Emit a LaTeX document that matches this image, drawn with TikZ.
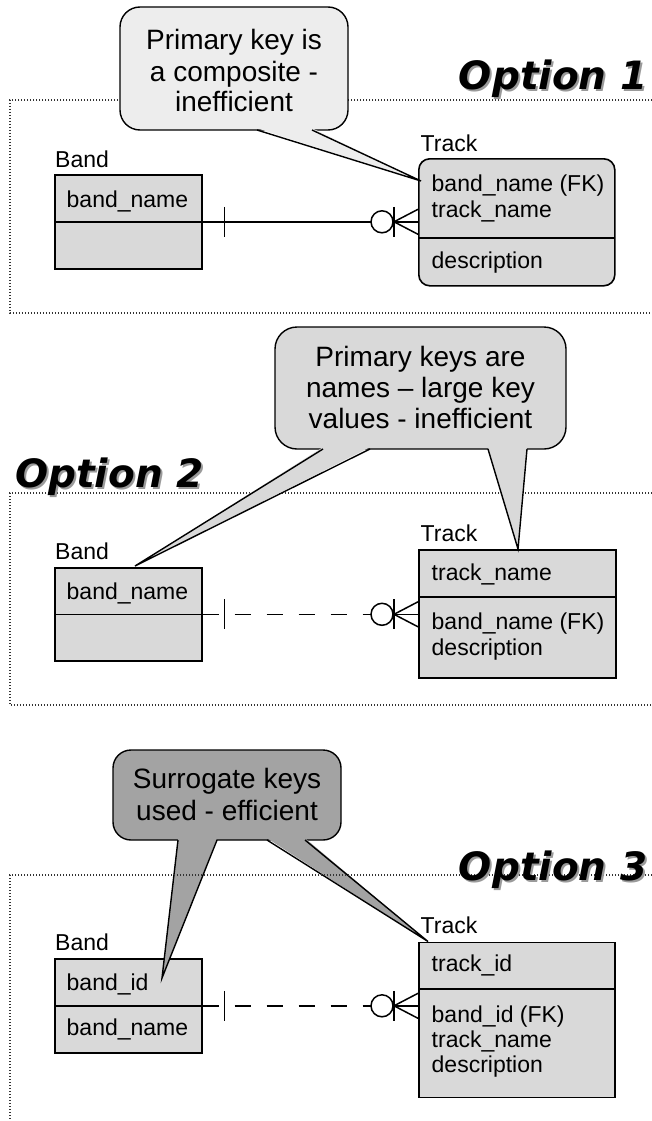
\documentclass[tikz,border=0pt]{standalone}
\usepackage{fontspec}
\setmainfont{Liberation Sans}
\newfontfamily\optfont{DejaVu Sans}
\usetikzlibrary{calc}
\definecolor{boxgray}{HTML}{D9D9D9}
\definecolor{calloutA}{HTML}{EDEDED}
\definecolor{calloutB}{HTML}{D9D9D9}
\definecolor{calloutC}{HTML}{A3A3A3}
\definecolor{framegray}{HTML}{333333}
\definecolor{shadowgray}{HTML}{9A9A9A}

\newcommand\crowrel[3]{%
  \coordinate (#1-r) at (#2.west |- #1.east);
  \coordinate (#1-c) at ($(#1-r)+(-47,0)$);
  \draw[rel,#3] (#1.east) -- (#1-c);
  \draw[rel] ($(#1.east)+(22,-15)$) -- ($(#1.east)+(22,15)$);
  \draw[rel] ($(#1-r)+(-24,0)$) -- (#1-r);
  \draw[rel,fill=white] ($(#1-r)+(-36,0)$) circle[radius=11pt];
  \draw[rel] ($(#1-r)+(-24,-15)$) -- ($(#1-r)+(-24,15)$);
  \draw[rel] ($(#1-r)+(0,-12.5)$) -- ($(#1-r)+(-24,0)$) -- ($(#1-r)+(0,12.5)$);
}
\newcommand\calltail[4]{%
  \fill[#1] ($#2+(0,-1.8)$) -- #4 -- ($#3+(0,-1.8)$) -- cycle;
  \draw[callline] #2 -- #4 -- #3;
}

\begin{document}
\begin{tikzpicture}[x=1pt,y=-1pt,
  rel/.style={line width=1.5pt, black},
  entity/.style={draw=black, line width=1.6pt, fill=boxgray, anchor=north west, inner sep=0pt},
  divider/.style={line width=1.6pt, black},
  fieldtxt/.style={anchor=base west, inner sep=0pt, font=\fontsize{23}{26}\selectfont},
  ctext/.style={anchor=base, inner sep=0pt, font=\fontsize{28}{31}\selectfont},
  callline/.style={line width=1.4pt, black, line join=miter},
  frame/.style={framegray, line width=1.2pt, dash pattern=on 1.4pt off 1.6pt},
  opttitle/.style={inner sep=0pt, font=\optfont\bfseries\itshape\fontsize{39}{44}\selectfont},
  dashrel/.style={dash pattern=on 16pt off 16pt}
]
\useasboundingbox (0,0) rectangle (652,1121);
\fill[white] (0,0) rectangle (652,1121);

% ================= Option 1 =================
\draw[frame] (652,100) -- (10,100) -- (10,313) -- (652,313);
\node[opttitle, text=shadowgray, anchor=base east] at (649.5,92) {Option 1};
\node[opttitle, anchor=base east] (opt1) at (647.5,90) {Option 1};

\node[fieldtxt] (band1lbl) at (55,167) {Band};
\node[entity, minimum width=147pt, minimum height=94pt] (band1) at (54,174) {};
\draw[divider] (band1.west) -- (band1.east);
\node[fieldtxt] (band1f1) at (66.5,207) {band\_name};

\node[fieldtxt] (track1lbl) at (420.5,151) {Track};
\node[entity, rounded corners=11pt, minimum width=196pt, minimum height=127pt] (track1) at (418,158) {};
\draw[divider] (418,238) -- (614,238);
\node[fieldtxt] (track1f1) at (431.5,191) {band\_name (FK)};
\node[fieldtxt] (track1f2) at (431.5,217) {track\_name};
\node[fieldtxt] (track1f3) at (431.5,268) {description};

\crowrel{band1}{track1}{}

% callout 1
\draw[callline, fill=calloutA, rounded corners=20pt] (120,7) rectangle (348,130);
\calltail{calloutA}{(257,130)}{(312,130)}{(421,181)}
\node[ctext] (c1a) at (234,50) {Primary key is};
\node[ctext] (c1b) at (234,81.5) {a composite -};
\node[ctext] (c1c) at (234,112) {inefficient};

% ================= Option 2 =================
\draw[frame] (652,493) -- (10,493) -- (10,705) -- (652,705);

\node[fieldtxt] (band2lbl) at (55,559) {Band};
\node[entity, minimum width=147pt, minimum height=93pt] (band2) at (54,567) {};
\draw[divider] (band2.west) -- (band2.east);
\node[fieldtxt] (band2f1) at (66.5,599) {band\_name};

\node[fieldtxt] (track2lbl) at (420.5,541) {Track};
\node[entity, minimum width=197pt, minimum height=128pt] (track2) at (418,549) {};
\draw[divider] (418,597) -- (615,597);
\node[fieldtxt] (track2f1) at (431.5,580) {track\_name};
\node[fieldtxt] (track2f2) at (431.5,629) {band\_name (FK)};
\node[fieldtxt] (track2f3) at (431.5,655) {description};

\crowrel{band2}{track2}{dashrel}

% callout 2
\draw[callline, fill=calloutB, rounded corners=22pt] (275,327) rectangle (566,449);
\calltail{calloutB}{(323,449)}{(370,449)}{(135,566)}
\calltail{calloutB}{(488,449)}{(527,449)}{(518,549)}
\node[ctext] (c2a) at (420.5,366.5) {Primary keys are};
\node[ctext] (c2b) at (420.5,397.5) {names -- large key};
\node[ctext] (c2c) at (420.5,428) {values - inefficient};

\node[opttitle, text=shadowgray, anchor=base west] at (17,489) {Option 2};
\node[opttitle, anchor=base west] (opt2) at (15,487) {Option 2};

% ================= Option 3 =================
\node[fieldtxt] (band3lbl) at (55,950) {Band};
\node[entity, minimum width=147pt, minimum height=94pt] (band3) at (54,958) {};
\draw[divider] (band3.west) -- (band3.east);
\node[fieldtxt] (band3f1) at (66.5,990) {band\_id};
\node[fieldtxt] (band3f2) at (66.5,1035) {band\_name};

\node[fieldtxt] (track3lbl) at (420.5,933) {Track};
\node[entity, minimum width=196pt, minimum height=155pt] (track3) at (418,941.5) {};
\draw[divider] (418,989) -- (614,989);
\node[fieldtxt] (track3f1) at (431.5,971.5) {track\_id};
\node[fieldtxt] (track3f2) at (431.5,1022) {band\_id (FK)};
\node[fieldtxt] (track3f3) at (431.5,1047.5) {track\_name};
\node[fieldtxt] (track3f4) at (431.5,1072) {description};

\crowrel{band3}{track3}{dashrel}

% callout 3
\draw[callline, fill=calloutC, rounded corners=18pt] (113,750) rectangle (341,840);
\calltail{calloutC}{(178,840)}{(217,840)}{(162,978)}
\calltail{calloutC}{(267,840)}{(305,840)}{(428,941.5)}
\node[ctext] (c3a) at (227,788) {Surrogate keys};
\node[ctext] (c3b) at (227,820) {used - efficient};

\draw[frame] (652,875) -- (10,875) -- (10,1121);
\node[opttitle, text=shadowgray, anchor=base east] at (649.5,882) {Option 3};
\node[opttitle, anchor=base east] (opt3) at (647.5,880) {Option 3};
\end{tikzpicture}
\end{document}
